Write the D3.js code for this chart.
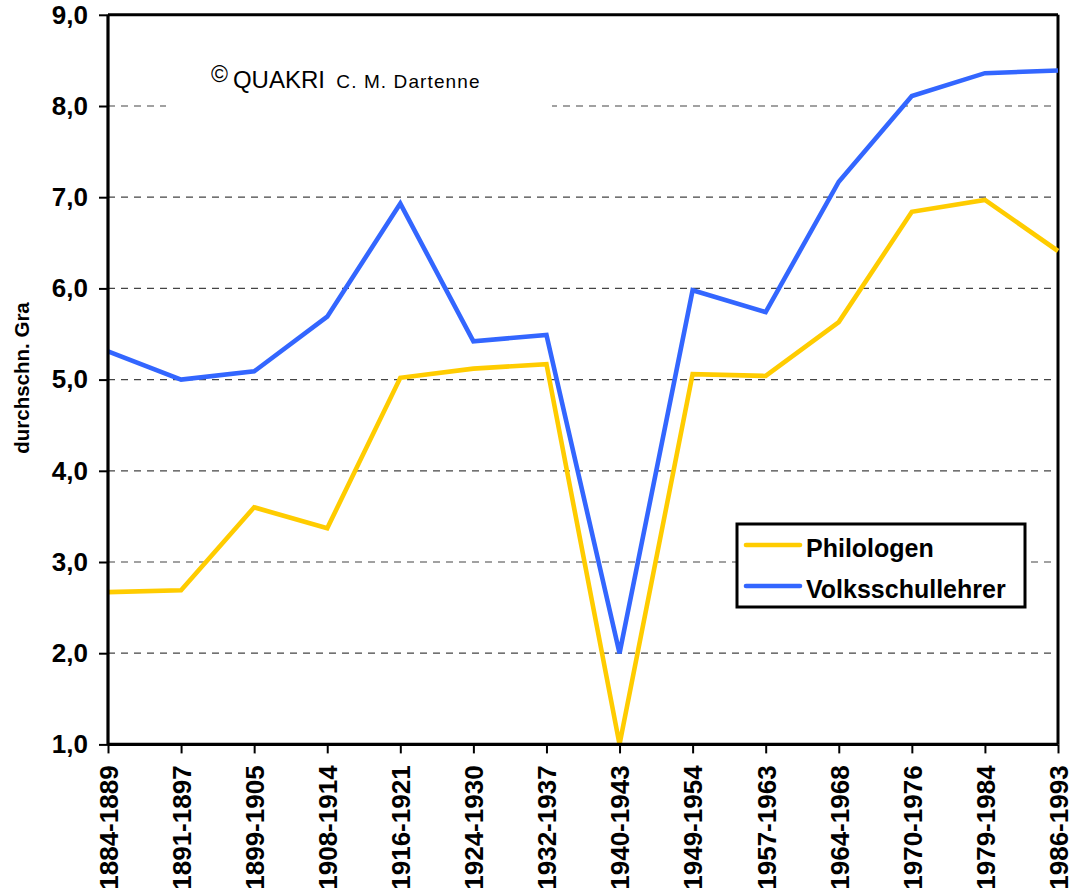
<!DOCTYPE html>
<html>
<head>
<meta charset="utf-8">
<script src="https://cdn.jsdelivr.net/npm/d3@7"></script>
<style>
  html, body { margin: 0; padding: 0; background: #fff; }
  svg { display: block; font-family: Arial, "Liberation Sans", sans-serif; }
</style>
</head>
<body>
<svg id="chart" width="1071" height="892"></svg>
<script>
const categories = ["1884-1889","1891-1897","1899-1905","1908-1914","1916-1921","1924-1930","1932-1937","1940-1943","1949-1954","1957-1963","1964-1968","1970-1976","1979-1984","1986-1993"];
const philologen = [2.67, 2.69, 3.60, 3.37, 5.02, 5.12, 5.17, 1.00, 5.06, 5.04, 5.63, 6.84, 6.97, 6.41];
const volksschullehrer = [5.31, 5.00, 5.09, 5.69, 6.93, 5.42, 5.49, 2.00, 5.98, 5.74, 7.17, 8.11, 8.36, 8.39];
const yTicks = [1, 2, 3, 4, 5, 6, 7, 8, 9];
const seriesNames = ["Philologen", "Volksschullehrer"];
const yTitle = "durchschn. Gra";

(function () {
const colors = { Philologen: "#FFCC00", Volksschullehrer: "#3366FF" };
const series = [
  { name: seriesNames[0], values: philologen },
  { name: seriesNames[1], values: volksschullehrer }
];

const svg = d3.select("#chart");
const pLeft = 108, pRight = 1058, pTop = 14.8, pBottom = 744.4;

const x = d3.scalePoint().domain(categories).range([pLeft, pRight]).padding(0);
const y = d3.scaleLinear().domain([1, 9]).range([pBottom, pTop]);
const fmt = d => d3.format(".1f")(d).replace(".", ",");

// gridlines
svg.append("g").selectAll("line")
  .data(yTicks.filter(t => t > 1 && t < 9))
  .join("line")
  .attr("x1", pLeft).attr("x2", pRight - 4)
  .attr("y1", d => y(d)).attr("y2", d => y(d))
  .attr("stroke", "#444").attr("stroke-width", 1.2)
  .attr("stroke-dasharray", "7,6");

// copyright note (white background over gridline)
svg.append("rect").attr("x", 166).attr("y", 60).attr("width", 386).attr("height", 52).attr("fill", "#fff");
const note = svg.append("text").attr("x", 211).attr("y", 88).attr("fill", "#000");
note.append("tspan").attr("font-size", 23).attr("dy", -6).text("©");
note.append("tspan").attr("font-size", 24).attr("dy", 6).attr("dx", 5).text("QUAKRI");
note.append("tspan").attr("font-size", 19).attr("dx", 5).attr("letter-spacing", 1.1).text(" C. M. Dartenne");

// frame top & right
svg.append("line").attr("x1", pLeft).attr("x2", pRight).attr("y1", y(9)).attr("y2", y(9))
  .attr("stroke", "#000").attr("stroke-width", 3);
svg.append("line").attr("x1", pRight).attr("x2", pRight).attr("y1", y(9)).attr("y2", pBottom)
  .attr("stroke", "#000").attr("stroke-width", 3);

// lines
const line = d3.line().x((d, i) => x(categories[i])).y(d => y(d));
svg.append("g").selectAll("path")
  .data(series)
  .join("path")
  .attr("d", d => line(d.values))
  .attr("fill", "none")
  .attr("stroke", d => colors[d.name])
  .attr("stroke-width", 4.6)
  .attr("stroke-linejoin", "miter");

// y axis
const yAxis = svg.append("g").attr("transform", `translate(${pLeft},0)`)
  .call(d3.axisLeft(y).tickValues(yTicks).tickFormat(fmt).tickSize(9).tickPadding(11));
yAxis.select(".domain").attr("stroke", "#000").attr("stroke-width", 3.2).attr("d", `M0,${pTop}V${pBottom}`);
yAxis.selectAll(".tick line").attr("stroke", "#000").attr("stroke-width", 2);
yAxis.selectAll(".tick text").attr("font-size", 26).attr("font-weight", "bold")
  .attr("font-family", "Arial, 'Liberation Sans', sans-serif").attr("fill", "#000");

// x axis
const xAxis = svg.append("g").attr("transform", `translate(0,${pBottom})`)
  .call(d3.axisBottom(x).tickSize(9).tickPadding(0));
xAxis.select(".domain").attr("stroke", "#000").attr("stroke-width", 3.2).attr("d", `M${pLeft},0H${pRight}`);
xAxis.selectAll(".tick line").attr("stroke", "#000").attr("stroke-width", 2);
xAxis.selectAll(".tick text")
  .attr("font-size", 26).attr("font-weight", "bold")
  .attr("font-family", "Arial, 'Liberation Sans', sans-serif").attr("fill", "#000")
  .attr("text-anchor", "end")
  .attr("transform", "rotate(-90)")
  .attr("x", -21).attr("y", 0).attr("dy", "0.36em");

// y title
svg.append("text")
  .attr("transform", "translate(29,378) rotate(-90)")
  .attr("text-anchor", "middle")
  .attr("font-size", 20.5).attr("font-weight", "bold")
  .text(yTitle);

// legend
const lg = svg.append("g");
lg.append("rect").attr("x", 737).attr("y", 524).attr("width", 288).attr("height", 83)
  .attr("fill", "#fff").attr("stroke", "#000").attr("stroke-width", 3);
const items = lg.selectAll("g.item").data(series).join("g").attr("class", "item")
  .attr("transform", (d, i) => `translate(0,${545 + i * 41})`);
items.append("line").attr("x1", 746).attr("x2", 800).attr("y1", 0).attr("y2", 0)
  .attr("stroke", d => colors[d.name]).attr("stroke-width", 4.6).attr("stroke-linecap", "round");
items.append("text").attr("x", 806).attr("y", 12)
  .attr("font-size", 25).attr("font-weight", "bold").text(d => d.name);
})();
</script>
</body>
</html>
